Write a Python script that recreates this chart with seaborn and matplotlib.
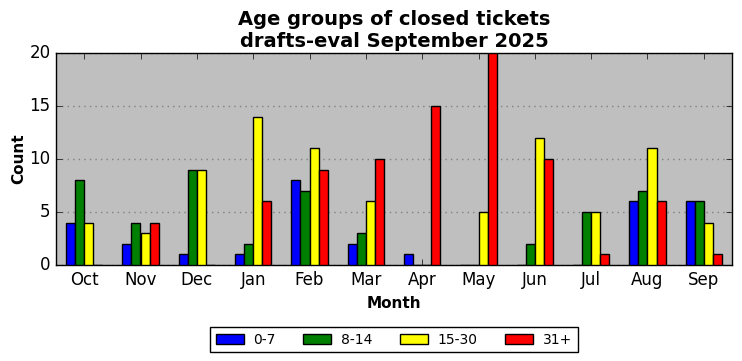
import matplotlib
matplotlib.use("Agg")
import matplotlib.pyplot as plt
import seaborn as sns
import pandas as pd

months = ["Oct", "Nov", "Dec", "Jan", "Feb", "Mar", "Apr", "May", "Jun", "Jul", "Aug", "Sep"]
groups = ["0-7", "8-14", "15-30", "31+"]
g0_7 = [4, 2, 1, 1, 8, 2, 1, 0, 0, 0, 6, 6]
g8_14 = [8, 4, 9, 2, 7, 3, 0, 0, 2, 5, 7, 6]
g15_30 = [4, 3, 9, 14, 11, 6, 0, 5, 12, 5, 11, 4]
g31 = [0, 4, 0, 6, 9, 10, 15, 20, 10, 1, 6, 1]
colors = ["#0000ff", "#008000", "#ffff00", "#ff0000"]

rows = []
for name, vals in zip(groups, [g0_7, g8_14, g15_30, g31]):
    for m, v in zip(months, vals):
        rows.append({"Month": m, "Group": name, "Count": v})
df = pd.DataFrame(rows)

plt.style.use("classic")
fig = plt.figure(figsize=(7.42, 3.61), dpi=100)
ax = fig.add_axes([56/742, 1-265/361, 676/742, 212/361])
ax.set_facecolor("#bfbfbf")
sns.barplot(data=df, x="Month", y="Count", hue="Group", order=months, hue_order=groups,
            palette=colors, width=0.645, gap=0, edgecolor="black", linewidth=1,
            saturation=1, ax=ax, legend=True, zorder=3)
ax.set_xlim(-0.5, 11.5)
ax.set_ylim(0, 20)
ax.set_yticks([0, 5, 10, 15, 20])
ax.yaxis.grid(True, linestyle=":", color="#808080", linewidth=1, zorder=0)
ax.xaxis.grid(False)
ax.set_axisbelow(True)
ax.tick_params(axis="both", labelsize=12, direction="in", top=True, right=True)
ax.set_xlabel("Month", fontsize=11, fontweight="bold")
ax.set_ylabel("Count", fontsize=11, fontweight="bold", labelpad=2)
ax.set_title("Age groups of closed tickets\ndrafts-eval September 2025", fontsize=14,
             fontweight="bold", linespacing=1.2, pad=4)
handles, labels = ax.get_legend_handles_labels()
ax.legend(handles, labels, loc="upper center", bbox_to_anchor=(0.5, -0.26), ncol=4,
          fontsize=10, frameon=True, fancybox=False, edgecolor="black", handlelength=2.0,
          handletextpad=0.7, columnspacing=2.0)
fig.savefig("out.png", dpi=100)
